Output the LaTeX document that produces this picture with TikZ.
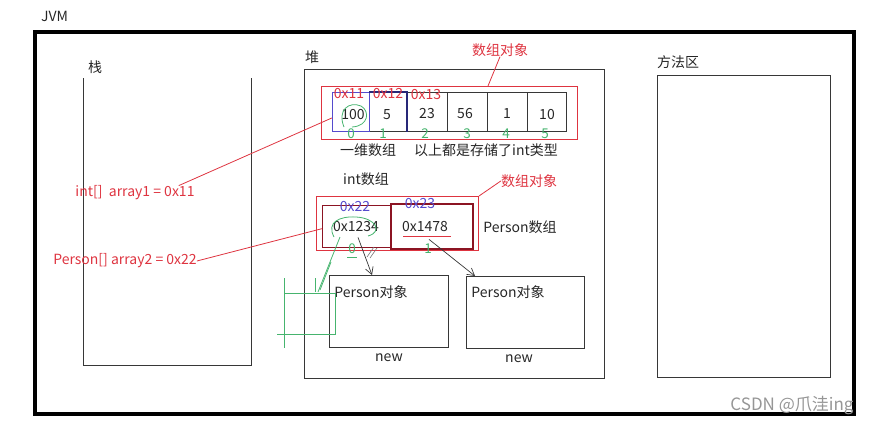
\documentclass[tikz,border=0pt]{standalone}
\usepackage{fontspec}
\setmainfont{Noto Sans CJK SC}
\usetikzlibrary{arrows.meta,calc}
\definecolor{rd}{RGB}{222,52,64}
\definecolor{gr}{RGB}{70,180,110}
\definecolor{pu}{RGB}{85,75,205}
\definecolor{nv}{RGB}{40,40,120}
\definecolor{dr}{RGB}{140,20,35}
\definecolor{bx}{RGB}{55,55,55}
\definecolor{wm}{RGB}{150,150,150}
\tikzset{
  box/.style={draw=bx, line width=0.8pt, inner sep=0pt, anchor=north west},
  area/.style={inner sep=0pt, anchor=north west},
  txt/.style={font=\fontsize{14}{16}\selectfont, inner sep=0pt, text=black!85},
  rtxt/.style={txt, text=rd},
  addr/.style={font=\fontsize{14}{16}\selectfont, inner sep=0pt},
  idx/.style={font=\fontsize{13.5}{15}\selectfont, inner sep=0pt, text=gr},
  rline/.style={draw=rd, line width=0.8pt},
  gline/.style={draw=gr, line width=0.8pt},
  parr/.style={draw=bx, line width=0.7pt, -{Straight Barb[length=7pt,width=8pt]}},
}
\begin{document}
\begin{tikzpicture}[x=1pt,y=-1pt]
\useasboundingbox (0,0) rectangle (877,428);
% JVM frame
\node[txt, anchor=west] (jvm) at (41,16) {JVM};
\node[box, draw=black, line width=4pt, minimum width=819, minimum height=382] (frame) at (33,30) {};
% stack
\node[txt] (stacklbl) at (95,67) {栈};
\node[area, minimum width=168, minimum height=287] (stack) at (83,78) {};
\draw[bx, line width=0.8pt] (stack.north west) -- (stack.south west) -- (stack.south east) -- (stack.north east);
% heap
\node[txt] (heaplbl) at (312,57) {堆};
\node[box, minimum width=300, minimum height=309] (heap) at (304,69) {};
% method area
\node[txt] (mlbl) at (678,62) {方法区};
\node[box, minimum width=173, minimum height=302] (method) at (657,75) {};

% int array cells
\node[box, minimum width=37, minimum height=39] (c0) at (332,92) {};
\node[box, minimum width=37, minimum height=39] (c1) at (369,92) {};
\node[box, minimum width=41, minimum height=39] (c2) at (406,92) {};
\node[box, minimum width=40, minimum height=39] (c3) at (447,92) {};
\node[box, minimum width=40, minimum height=39] (c4) at (487,92) {};
\node[box, minimum width=39, minimum height=39] (c5) at (527,92) {};
\draw[pu, line width=0.9pt] (c0.north west) rectangle (c0.south east);
\draw[nv, line width=1.6pt] (c1.north west) -- (c1.north east) -- (c1.south east);
\node[box, draw=rd, line width=1pt, minimum width=256, minimum height=53] (arr1) at (321,86) {};
\node[txt] (v0) at (353,115) {100};
\node[txt] (v1) at (387,115) {5};
\node[txt] (v2) at (427,114) {23};
\node[txt] (v3) at (465,114) {56};
\node[txt] (v4) at (507,114) {1};
\node[txt] (v5) at (547,115) {10};
\node[addr, text=rd] (a0) at (349,94) {0x11};
\node[addr, text=rd] (a1) at (388,94) {0x12};
\node[addr, text=rd] (a2) at (426,95) {0x13};
\node[idx] (i0) at (351,134) {0};
\node[idx] (i1) at (383,134) {1};
\node[idx] (i2) at (425,134) {2};
\node[idx] (i3) at (467,134) {3};
\node[idx] (i4) at (506,134) {4};
\node[idx] (i5) at (545,134) {5};
\draw[gline] (344,127) .. controls (337,110) and (349,101) .. (361,106) .. controls (370,111) and (369,126) .. (352,127);
\node[txt] (t1) at (368,150) {一维数组};
\node[txt] (t2) at (486,150) {以上都是存储了int类型};
\node[rtxt] (obj1) at (500,50) {数组对象};
\draw[rline] (arr1.north east) ++(-90,0) -- (obj1.south);

% Person array
\node[txt] (t3) at (366,179) {int数组};
\node[rtxt] (obj2) at (529,181) {数组对象};
\node[box, draw=rd, line width=1pt, minimum width=162, minimum height=54] (arr2) at (316,196) {};
\node[box, draw=dr, line width=1.3pt, minimum width=68, minimum height=42] (p0) at (322,205) {};
\node[box, draw=dr, line width=1.9pt, minimum width=82, minimum height=45] (p1) at (390,203) {};
\draw[rline] (arr2.north east) -- (obj2.west);
\node[addr, text=pu] (b0) at (355,207) {0x22};
\node[addr, text=pu] (b1) at (420,204) {0x23};
\node[txt] (w0) at (356,227) {0x1234};
\node[txt] (w1) at (425,227) {0x1478};
\draw[rline] (403,236) -- (451,236);
\draw[gline] (334,237) .. controls (326,222) and (340,216) .. (356,217) .. controls (376,218) and (383,232) .. (368,236);
\node[txt] (t4) at (520,227) {Person数组};
\node[idx] (j0) at (352,249) {0};
\draw[gline] (347,257) -- (357,257);
\node[idx] (j1) at (428,249) {1};
\draw[bx!70, line width=0.6pt] (367,257) -- (374,247) (370,258) -- (377,248);

% Person objects
\node[box, minimum width=119, minimum height=72] (o1) at (329,275) {};
\node[box, minimum width=118, minimum height=72] (o2) at (466,276) {};
\node[txt] (on1) at (371,292) {Person对象};
\node[txt] (on2) at (508,292) {Person对象};
\node[txt] (n1) at (389,358) {new};
\node[txt] (n2) at (519,359) {new};
\draw[parr] (w0.south) ++(2,5) -- ($(o1.north west)+(43,0)$);
\draw[parr] (w1.south) ++(4,7) -- ($(o2.north west)+(9,0)$);

% green scribbles
\draw[gline] (340,237) -- (318,292);
\draw[gline] (331,262) -- (320,290);
\draw[gline] (284,278) -- (284,348);
\draw[gline] (285,293) -- (335,293) -- (335,334) -- (277,334);
\draw[gline] (315,278) -- (315,292);

% stack variables
\node[rtxt] (s1) at (135,193) {int[]\ \ array1 = 0x11};
\node[rtxt] (s2) at (125,261) {Person[] array2 = 0x22};
\draw[rline] (s1.north east) ++(-16,0) -- ($(c0.west)+(0,6)$);
\draw[rline] (s2.east) -- ($(p0.west)+(0,2)$);

% watermark
\node[font=\fontsize{17}{19}\selectfont, text=wm, inner sep=0pt] (wmk) at (792,405) {CSDN @爪洼ing};
\end{tikzpicture}
\end{document}
